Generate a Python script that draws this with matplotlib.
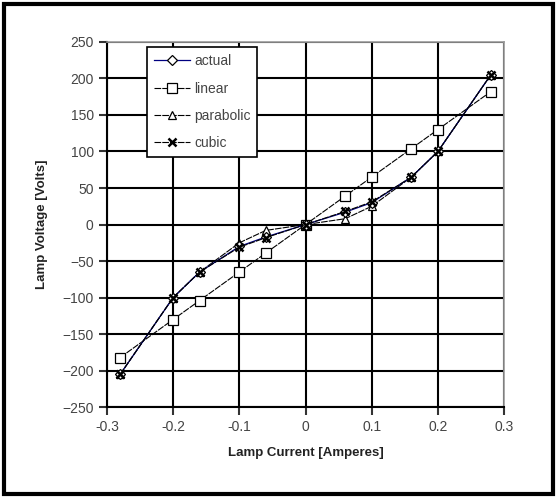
import numpy as np
import matplotlib.pyplot as plt
from matplotlib.patches import Rectangle

plt.rcParams['font.family'] = ['Liberation Sans', 'DejaVu Sans']

current = [-0.28, -0.2, -0.16, -0.1, -0.06, 0, 0.06, 0.1, 0.16, 0.2, 0.28]
actual = [-205, -100, -65, -30, -17, 0, 17, 30, 65, 100, 205]
linear = [-182, -130, -104, -65, -39, 0, 39, 65, 104, 130, 182]
parabolic = [-205, -100, -65, -25, -8, 0, 8, 25, 65, 100, 205]
cubic = [-205, -100, -65, -31, -18, 0, 18, 31, 65, 100, 205]

fig = plt.figure(figsize=(5.57, 4.99), dpi=100)
ax = fig.add_axes([0.192, 0.184, 0.713, 0.732])

dash = (0, (6, 1))
ax.plot(current, actual, color='#000080', lw=0.9, marker='D', ms=5,
        mfc='white', mec='black', mew=0.9, label='actual', zorder=5)
ax.plot(current, linear, color='black', lw=0.8, ls=dash, marker='s', ms=7,
        mfc='white', mec='black', mew=0.9, label='linear', zorder=4)
ax.plot(current, parabolic, color='black', lw=0.8, ls=dash, marker='^', ms=6,
        mfc='white', mec='black', mew=0.9, label='parabolic', zorder=4)
ax.plot(current, cubic, color='black', lw=0.8, ls=dash, marker='x', ms=6,
        mec='black', mew=1.8, label='cubic', zorder=6)

ax.set_xlim(-0.3, 0.3)
ax.set_ylim(-250, 250)
ax.set_xticks(np.arange(-0.3, 0.31, 0.1))
ax.set_xticklabels(['-0.3', '-0.2', '-0.1', '0', '0.1', '0.2', '0.3'])
ax.set_yticks(np.arange(-250, 251, 50))
ax.grid(True, color='black', lw=1.5)
ax.set_axisbelow(True)
ax.tick_params(axis='both', labelsize=10, colors='#333333', length=6, width=1.5,
               direction='out')
ax.tick_params(axis='both', labelcolor='#444444')
for s in ['left', 'bottom']:
    ax.spines[s].set_linewidth(1.5)
    ax.spines[s].set_color('black')
for s in ['top', 'right']:
    ax.spines[s].set_color('#999999')
    ax.spines[s].set_linewidth(1.2)

ax.set_xlabel('Lamp Current [Amperes]', fontsize=9.5, fontweight='bold',
              color='#222222', labelpad=9)
ax.set_ylabel('Lamp Voltage [Volts]', fontsize=9.5, fontweight='bold',
              color='#222222', labelpad=10)

leg = ax.legend(loc='upper left', bbox_to_anchor=(0.1, 0.985), fontsize=10,
                frameon=True, fancybox=False, framealpha=1, edgecolor='black',
                borderpad=0.5, labelspacing=0.95, handlelength=2.6,
                handletextpad=0.3, borderaxespad=0)
leg.get_frame().set_linewidth(1.2)
for t in leg.get_texts():
    t.set_color('#444444')

fig.patches.append(Rectangle((0.008, 0.01), 0.985, 0.982, transform=fig.transFigure,
                             fill=False, edgecolor='black', lw=3))

fig.savefig('out.png', dpi=100)
